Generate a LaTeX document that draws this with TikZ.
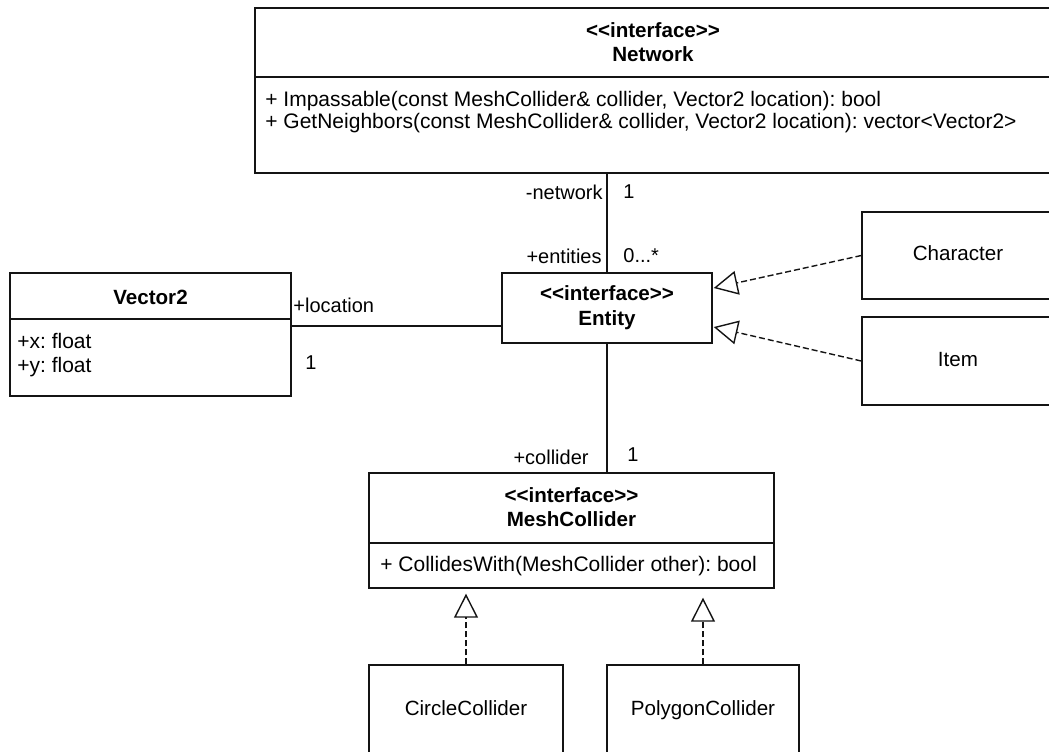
\documentclass[tikz,border=0pt]{standalone}
\usepackage{fontspec}
\setmainfont{Liberation Sans}
\frenchspacing
\usetikzlibrary{arrows.meta,positioning,calc}
\definecolor{trait}{RGB}{20,20,20}
\newcommand{\stereo}[1]{<\kern0pt<#1>\kern0pt>}
\tikzset{
  classe/.style={draw=trait,line width=0.7pt,fill=white,inner sep=0pt,align=center,
                 font=\fontsize{10.3}{12}\selectfont},
  simple/.style={classe,text height=0.72em,text depth=0.21em},
  titre/.style={font=\fontsize{10.3}{12}\selectfont\bfseries,align=center,inner sep=0pt},
  membre/.style={font=\fontsize{10.5}{12}\selectfont,align=left,anchor=west,inner sep=0pt},
  role/.style={font=\fontsize{10}{12}\selectfont,inner sep=0pt},
  assoc/.style={draw=trait,line width=0.7pt},
  realise/.style={draw=trait,line width=0.7pt,dash pattern=on 3pt off 1.5pt,
                  -{Triangle[open,length=12pt,width=12pt]}},
}

\begin{document}
\begin{tikzpicture}[x=0.5pt,y=-0.5pt]
    \useasboundingbox (0,0) rectangle (1049,751);
    \clip (0,0) rectangle (1049,751);
    % classes
    \node[classe,minimum width=398pt,minimum height=82.5pt] (network) at (653,90.5) {};
    \node[titre] (networkT) at (653,42) {\stereo{interface}\\Network};
    \draw[assoc] (255,77) -- (1051,77);
    \node[membre,font=\fontsize{10.5}{11}\selectfont] (networkM) at (265,112)
      {+ Impassable(const MeshCollider\& collider, Vector2 location): bool\\
       + GetNeighbors(const MeshCollider\& collider, Vector2 location): vector<Vector2>};

    \node[classe,minimum width=105pt,minimum height=35pt,font=\fontsize{10.3}{12.5}\selectfont\bfseries]
      (entity) at (607,308) {\stereo{interface}\\Entity};

    \node[classe,minimum width=140.5pt,minimum height=61.5pt] (vector) at (150.5,334.5) {};
    \node[titre] (vectorT) at (150.5,297) {Vector2};
    \draw[assoc] (10,319) -- (291,319);
    \node[membre] (vectorM) at (17,355) {+x: float\\+y: float};

    \node[simple,minimum width=96pt,minimum height=43.5pt] (character) at (958,255.5) {Character};
    \node[simple,minimum width=96pt,minimum height=44pt] (item) at (958,361) {Item};

    \node[classe,minimum width=202.5pt,minimum height=57.5pt] (mesh) at (571.5,530.5) {};
    \node[titre] (meshT) at (571.5,507) {\stereo{interface}\\MeshCollider};
    \draw[assoc] (369,543) -- (774,543);
    \node[membre] (meshM) at (380,566) {+ CollidesWith(MeshCollider other): bool};

    \node[simple,minimum width=97pt,minimum height=45pt] (circle) at (466,710) {CircleCollider};
    \node[simple,minimum width=96pt,minimum height=45pt] (polygon) at (703,710) {PolygonCollider};

    % associations
    \draw[assoc] (network.south -| entity.north) -- (entity.north);
    \coordinate (locy) at (0,326);
    \draw[assoc] (vector.east |- locy) -- (entity.west |- locy);
    \draw[assoc] (entity.south) -- (mesh.north -| entity.south);

    \node[role,anchor=east] at (603,192) {-network};
    \node[role,anchor=west] at (623,192) {1};
    \node[role,anchor=east] at (602,256) {+entities};
    \node[role,anchor=west] at (623,256) {0...*};
    \node[role,anchor=west] at (293,305) {+location};
    \node[role,anchor=west] at (305,363) {1};
    \node[role,anchor=east] at (589,457) {+collider};
    \node[role,anchor=west] at (627,455) {1};

    % realisations
    \draw[realise] (character.west) -- ($(entity.east)+(1,-20)$);
    \draw[realise] (item.west) -- ($(entity.east)+(1,19)$);
    \draw[realise] (circle.north) -- ($(mesh.south -| circle.north)+(0,5)$);
    \draw[realise] (polygon.north) -- ($(mesh.south -| polygon.north)+(0,9)$);
\end{tikzpicture}
\end{document}
